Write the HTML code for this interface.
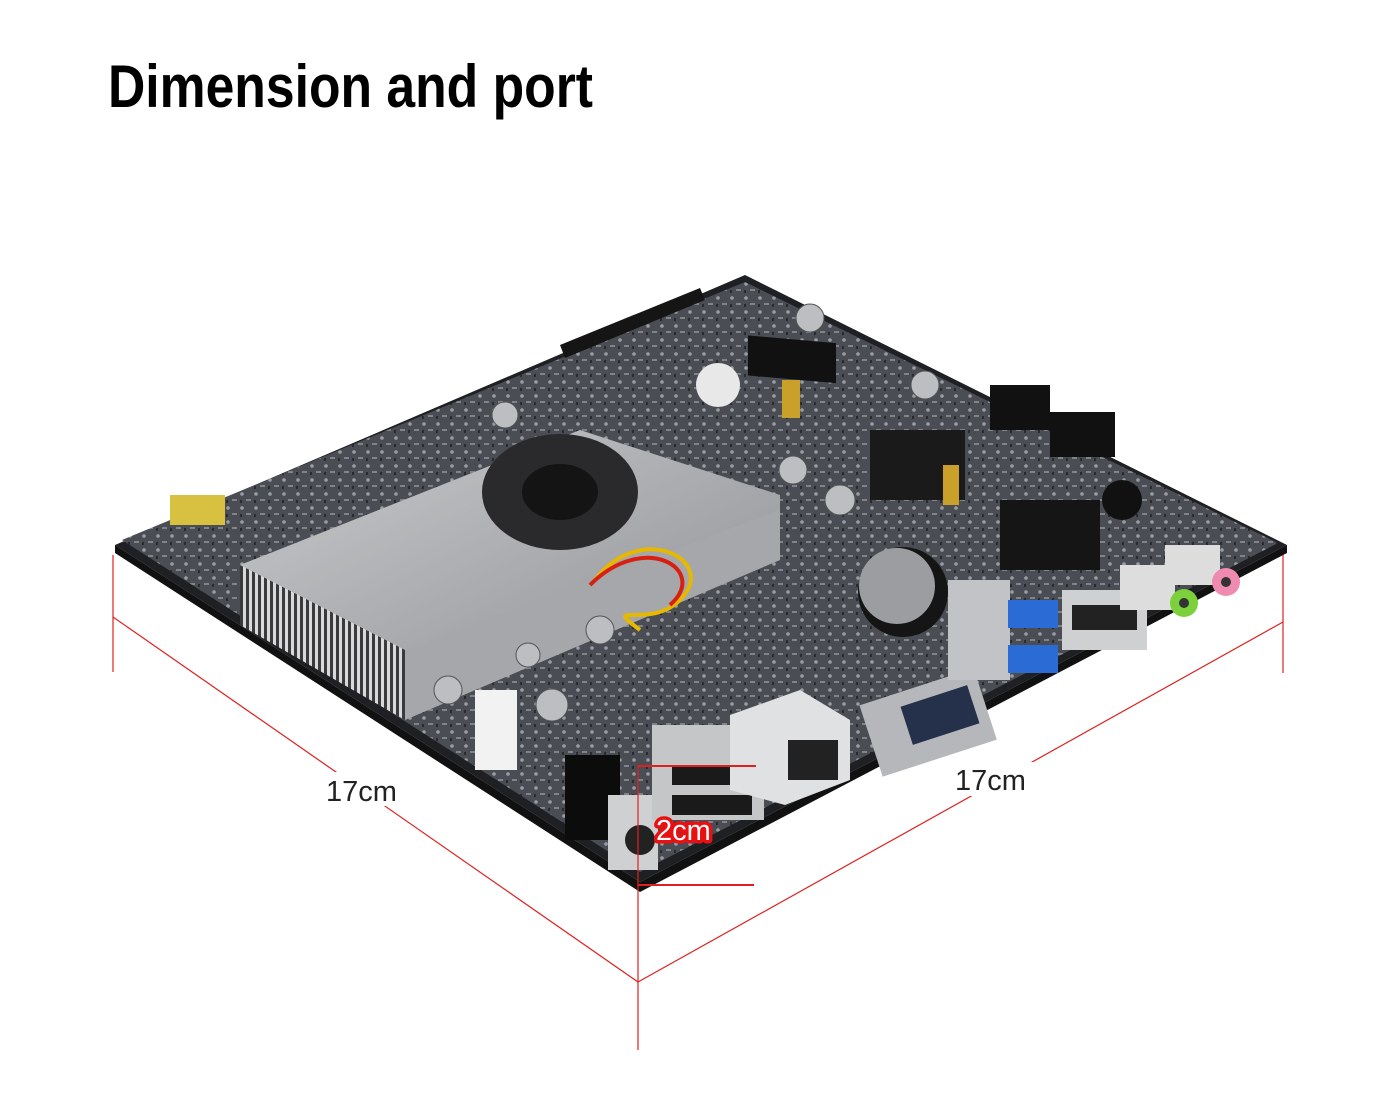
<!DOCTYPE html>
<html><head><meta charset="utf-8"><style>
html,body{margin:0;padding:0;background:#fff;}
svg{display:block;}
</style></head><body>
<svg width="1400" height="1093" viewBox="0 0 1400 1093" xmlns="http://www.w3.org/2000/svg">
<defs>
<linearGradient id="hs" x1="0" y1="0" x2="1" y2="1"><stop offset="0" stop-color="#c9cacc"/><stop offset="1" stop-color="#8d8f93"/></linearGradient>
<pattern id="fins" width="6" height="10" patternUnits="userSpaceOnUse"><rect width="6" height="10" fill="#d8d9db"/><rect width="3" height="10" fill="#3a3a3c"/></pattern>
<pattern id="pcb" width="14" height="14" patternUnits="userSpaceOnUse"><rect width="14" height="14" fill="#4a4d53"/><circle cx="4" cy="4" r="1.8" fill="#9a9da3"/><rect x="8" y="9" width="5" height="2" fill="#80838a"/><rect x="2" y="10" width="2" height="3" fill="#2a2b2e"/></pattern>
</defs>
<rect width="1400" height="1093" fill="#fff"/>
<text x="108" y="107" font-family="Liberation Sans, sans-serif" font-weight="bold" font-size="60" textLength="485" lengthAdjust="spacingAndGlyphs" fill="#000">Dimension and port</text>

<polygon points="115,545 745,275 1287,545 640,882" fill="#1f2023"/>
<polygon points="122,540 745,282 1278,543 640,872" fill="url(#pcb)"/>
<polygon points="115,545 640,882 640,892 115,553" fill="#111"/>
<polygon points="640,882 1287,545 1287,553 640,892" fill="#111"/>

<polygon points="560,345 700,288 705,300 565,358" fill="#151515"/>
<rect x="748" y="270" width="88" height="40" fill="#111" transform="skewY(5)"/>
<rect x="990" y="385" width="60" height="45" fill="#111"/>
<rect x="1050" y="412" width="65" height="45" fill="#111"/>
<rect x="870" y="430" width="95" height="70" fill="#1a1a1a"/>
<rect x="1000" y="500" width="100" height="70" fill="#151515"/>
<circle cx="718" cy="385" r="22" fill="#e8e8e8"/>
<circle cx="1122" cy="500" r="20" fill="#111"/>

<polygon points="240,565 580,430 780,495 780,560 405,700 240,620" fill="url(#hs)"/>
<polygon points="240,565 405,650 405,720 240,625" fill="url(#fins)"/>
<polygon points="405,650 780,510 780,560 405,720" fill="#a5a7ab"/>
<ellipse cx="560" cy="492" rx="78" ry="58" fill="#2a2a2c"/>
<ellipse cx="560" cy="492" rx="38" ry="28" fill="#141414"/>
<path d="M595,580 C640,520 720,560 680,600 C650,630 600,600 640,630" stroke="#e6b800" stroke-width="4" fill="none"/>
<path d="M590,585 C645,530 710,570 670,605" stroke="#d82010" stroke-width="4" fill="none"/>
<rect x="475" y="690" width="42" height="80" fill="#f2f2f2"/>

<g fill="#bcbec2" stroke="#555"><circle cx="448" cy="690" r="14"/><circle cx="552" cy="705" r="16"/><circle cx="600" cy="630" r="14"/><circle cx="840" cy="500" r="15"/><circle cx="793" cy="470" r="14"/><circle cx="810" cy="318" r="14"/><circle cx="925" cy="385" r="14"/><circle cx="505" cy="415" r="13"/><circle cx="528" cy="655" r="12"/></g>
<circle cx="903" cy="592" r="45" fill="#151515"/><circle cx="897" cy="586" r="38" fill="#9b9da1"/>
<rect x="782" y="380" width="18" height="38" fill="#c8a02a"/>
<rect x="943" y="465" width="16" height="40" fill="#c8a02a"/>
<rect x="170" y="495" width="55" height="30" fill="#d8c040"/>

<rect x="565" y="755" width="55" height="85" fill="#0c0c0c"/>
<rect x="608" y="795" width="50" height="75" fill="#cfd0d2"/><circle cx="640" cy="840" r="15" fill="#222"/>
<rect x="652" y="725" width="112" height="95" fill="#c5c6c8"/>
<rect x="672" y="765" width="80" height="20" fill="#1a1a1a"/><rect x="672" y="795" width="80" height="20" fill="#1a1a1a"/>
<polygon points="730,715 800,690 850,720 850,780 785,805 730,790" fill="#e0e1e3"/>
<rect x="788" y="740" width="50" height="40" fill="#222"/>
<rect x="868" y="685" width="120" height="75" fill="#b5b7ba" transform="rotate(-18 928 722)"/>
<rect x="905" y="695" width="70" height="40" fill="#25304a" transform="rotate(-18 940 715)"/>
<rect x="948" y="580" width="62" height="100" fill="#c2c3c6"/>
<rect x="1008" y="600" width="50" height="28" fill="#2a6bd6"/><rect x="1008" y="645" width="50" height="28" fill="#2a6bd6"/>
<rect x="1062" y="590" width="85" height="60" fill="#cfd0d2"/><rect x="1072" y="605" width="65" height="25" fill="#222"/>
<rect x="1120" y="565" width="55" height="45" fill="#ddd"/><circle cx="1184" cy="603" r="14" fill="#7bd03c"/><circle cx="1184" cy="603" r="5" fill="#333"/>
<rect x="1165" y="545" width="55" height="40" fill="#ddd"/><circle cx="1226" cy="582" r="14" fill="#ef8ab0"/><circle cx="1226" cy="582" r="5" fill="#333"/>

<g stroke="#e02020" stroke-width="1.2" fill="none">
<line x1="113" y1="555" x2="113" y2="672"/>
<line x1="1283" y1="555" x2="1283" y2="673"/>
<line x1="113" y1="617" x2="638" y2="982"/>
<line x1="638" y1="982" x2="1283" y2="622"/>
<line x1="638" y1="765" x2="638" y2="1050"/>
</g>
<g stroke="#e02020" stroke-width="2" fill="none">
<line x1="638" y1="885" x2="754" y2="885"/>
<line x1="638" y1="766" x2="756" y2="766"/>
</g>
<rect x="320" y="772" width="90" height="34" fill="#fff"/>
<rect x="950" y="762" width="92" height="34" fill="#fff"/>
<text x="326" y="801" font-family="Liberation Sans, sans-serif" font-size="29" fill="#222">17cm</text>
<text x="955" y="790" font-family="Liberation Sans, sans-serif" font-size="29" fill="#222">17cm</text>
<text x="656" y="840" font-family="Liberation Sans, sans-serif" font-size="29" fill="#fff" stroke="#e81010" stroke-width="7" stroke-linejoin="round" paint-order="stroke">2cm</text>
</svg>
</body></html>
